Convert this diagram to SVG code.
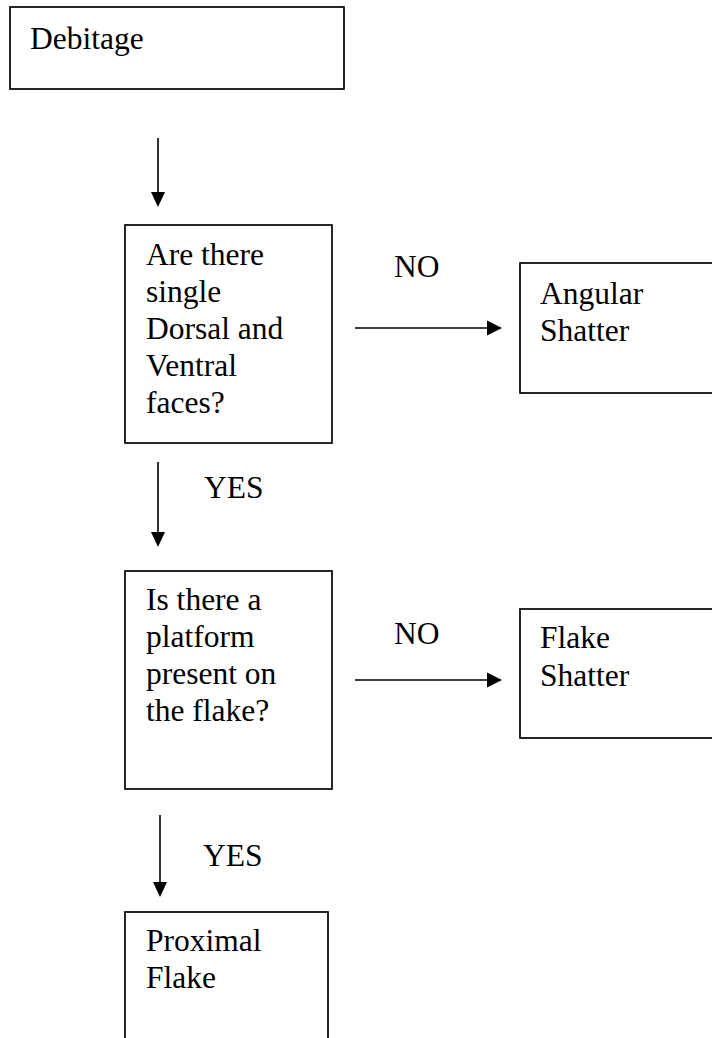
<svg xmlns="http://www.w3.org/2000/svg" width="712" height="1038" viewBox="0 0 712 1038">
<style>
.box{fill:#fff;stroke:#000;stroke-width:1.7}
.t{font-family:"Liberation Serif","Times New Roman",serif;font-size:31.5px;fill:#000}
.c{stroke:#000;stroke-width:1.6;fill:none}
</style>
<rect width="712" height="1038" fill="#fff"/>
<g id="connectors">
<line class="c" x1="158" y1="138" x2="158" y2="192"/>
<path d="M151,192 L165,192 L158,207 z" fill="#000"/>
<line class="c" x1="158" y1="462" x2="158" y2="532"/>
<path d="M151,532 L165,532 L158,547 z" fill="#000"/>
<line class="c" x1="160" y1="815" x2="160" y2="882"/>
<path d="M153,882 L167,882 L160,897 z" fill="#000"/>
<line class="c" x1="355" y1="328" x2="487" y2="328"/>
<path d="M487,320.5 L487,335.5 L502,328 z" fill="#000"/>
<line class="c" x1="355" y1="680" x2="487" y2="680"/>
<path d="M487,672.5 L487,687.5 L502,680 z" fill="#000"/>
<text class="t" x="394" y="277">NO</text>
<text class="t" x="204" y="498">YES</text>
<text class="t" x="394" y="644">NO</text>
<text class="t" x="203" y="866">YES</text>
</g>
<g id="debitage">
<rect class="box" x="10" y="7" width="334" height="82"/>
<text class="t" x="30" y="49">Debitage</text>
</g>
<g id="q1">
<rect class="box" x="125" y="225" width="207" height="218"/>
<text class="t" x="146" y="265">Are there</text>
<text class="t" x="146" y="302">single</text>
<text class="t" x="146" y="339">Dorsal and</text>
<text class="t" x="146" y="376">Ventral</text>
<text class="t" x="146" y="413">faces?</text>
</g>
<g id="angular">
<rect class="box" x="520" y="263" width="200" height="130"/>
<text class="t" x="540" y="304">Angular</text>
<text class="t" x="540" y="341">Shatter</text>
</g>
<g id="q2">
<rect class="box" x="125" y="571" width="207" height="218"/>
<text class="t" x="146" y="610">Is there a</text>
<text class="t" x="146" y="647">platform</text>
<text class="t" x="146" y="684">present on</text>
<text class="t" x="146" y="721">the flake?</text>
</g>
<g id="flakeshatter">
<rect class="box" x="520" y="609" width="200" height="129"/>
<text class="t" x="540" y="648">Flake</text>
<text class="t" x="540" y="686">Shatter</text>
</g>
<g id="proximal">
<rect class="box" x="125" y="912" width="203" height="140"/>
<text class="t" x="146" y="951">Proximal</text>
<text class="t" x="146" y="988">Flake</text>
</g>
</svg>
